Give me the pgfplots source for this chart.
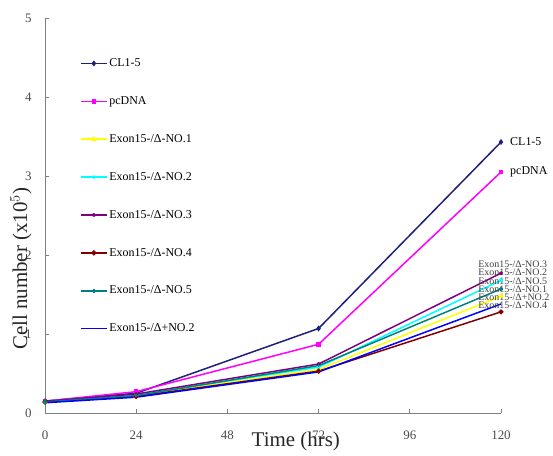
\documentclass[border=0pt]{standalone}
\usepackage{pgfplots}
\pgfplotsset{compat=1.18}
\usepackage{fontspec}
\setmainfont{Liberation Serif}
\definecolor{cnavy}{HTML}{1F1F7A}
\definecolor{cmag}{HTML}{FF00FF}
\definecolor{cyel}{HTML}{FFFF00}
\definecolor{ccyan}{HTML}{00FFFF}
\definecolor{cpur}{HTML}{800080}
\definecolor{cdred}{HTML}{800000}
\definecolor{cteal}{HTML}{008080}
\definecolor{cblue}{HTML}{0000FF}
\begin{document}
\begin{tikzpicture}
\begin{axis}[
  scale only axis, width=456bp, height=395bp,
  xmin=0, xmax=120, ymin=0, ymax=5,
  xtick={0,24,48,72,96,120}, ytick={0,1,2,3,4,5},
  axis x line*=bottom, axis y line*=left,
  axis line style={gray, line width=0.8pt},
  tick style={gray, line width=0.8pt},
  major tick length=4bp, tick align=inside,
  /pgf/number format/assume math mode=true,
  ticklabel style={font=\fontsize{13}{13}\selectfont, text=black!70},
  xticklabel style={yshift=-14bp},
  yticklabel style={xshift=-10bp},
  xlabel={Time (hrs)}, ylabel={Cell number (x10$^{5}$)},
  label style={font=\fontsize{21}{21}\selectfont, text=black!85},
  xlabel style={at={(axis cs:66,0)}, anchor=center, yshift=-28bp},
  ylabel style={at={(rel axis cs:0,0.365)}, anchor=center, yshift=24bp},
  legend cell align=left,
  legend style={at={(rel axis cs:0.075,0.905)}, anchor=north west, draw=none, fill=none,
    font=\fontsize{12}{12}\selectfont, row sep=24.5bp, inner sep=1pt},
  legend image code/.code={\draw[mark repeat=2,mark phase=2] plot coordinates {(0cm,0cm) (0.45cm,0cm) (0.9cm,0cm)};},
  every axis plot/.append style={line width=1.5pt, mark size=1.8pt},
  clip=false,
]
\addplot[cnavy, mark=diamond*] coordinates {(0,0.15) (24,0.25) (72,1.07) (120,3.43)};
\addlegendentry{CL1-5}
\addplot[cmag, mark=square*, mark size=1.5pt] coordinates {(0,0.15) (24,0.27) (72,0.87) (120,3.05)};
\addlegendentry{pcDNA}
\addplot[cyel, mark=triangle*] coordinates {(0,0.14) (24,0.22) (72,0.55) (120,1.48)};
\addlegendentry{Exon15-/Δ-NO.1}
\addplot[ccyan, mark=x] coordinates {(0,0.15) (24,0.23) (72,0.58) (120,1.68)};
\addlegendentry{Exon15-/Δ-NO.2}
\addplot[cpur, mark=star] coordinates {(0,0.15) (24,0.24) (72,0.62) (120,1.77)};
\addlegendentry{Exon15-/Δ-NO.3}
\addplot[cdred, mark=*] coordinates {(0,0.14) (24,0.21) (72,0.53) (120,1.28)};
\addlegendentry{Exon15-/Δ-NO.4}
\addplot[cteal, mark=+] coordinates {(0,0.14) (24,0.22) (72,0.60) (120,1.57)};
\addlegendentry{Exon15-/Δ-NO.5}
\addplot[cblue, mark=none] coordinates {(0,0.13) (24,0.20) (72,0.52) (120,1.38)};
\addlegendentry{Exon15-/Δ+NO.2}
\node[anchor=west, font=\fontsize{12}{12}\selectfont] at (axis cs:121.5,3.43) {CL1-5};
\node[anchor=west, font=\fontsize{12}{12}\selectfont] at (axis cs:121.5,3.05) {pcDNA};
\begin{scope}[every node/.style={anchor=west, inner sep=0pt, font=\fontsize{10}{10}\selectfont, text=black!75}]
\node at (axis cs:114,1.88) {Exon15-/Δ-NO.3};
\node at (axis cs:114,1.78) {Exon15-/Δ-NO.2};
\node at (axis cs:114,1.67) {Exon15-/Δ-NO.5};
\node at (axis cs:114,1.57) {Exon15-/Δ-NO.1};
\node at (axis cs:114,1.46) {Exon15-/Δ+NO.2};
\node at (axis cs:114,1.36) {Exon15-/Δ-NO.4};
\end{scope}
\end{axis}
\pgfresetboundingbox
\path[use as bounding box] (-45bp,-43bp) rectangle (508bp,413bp);
\end{tikzpicture}
\end{document}
